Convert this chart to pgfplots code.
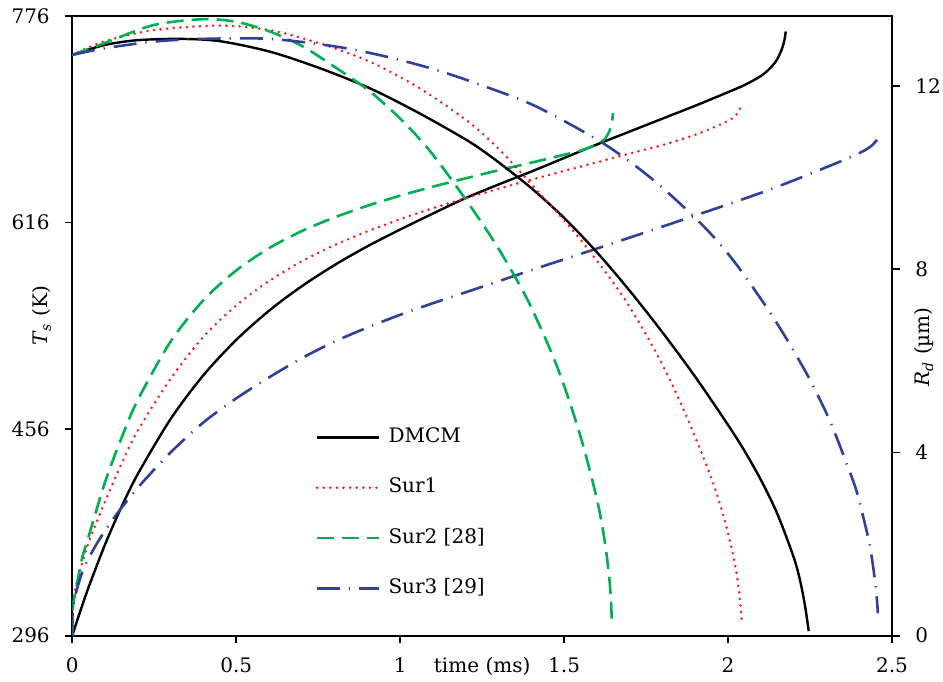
\documentclass[border=0pt]{standalone}
\usepackage{fontspec}
\setmainfont{DejaVu Serif}
\usepackage{pgfplots}
\pgfplotsset{compat=1.18}
\definecolor{sred}{RGB}{255,20,20}
\definecolor{sgreen}{RGB}{0,176,80}
\definecolor{sblue}{RGB}{46,64,152}
\tikzset{
  dmcm/.style={black, line width=1.2pt},
  sur1/.style={sred, line width=1.4pt, line cap=round, dash pattern=on 0pt off 3.3pt},
  sur2/.style={sgreen, line width=1.3pt, dash pattern=on 8.5pt off 4pt},
  sur3/.style={sblue, line width=1.3pt, dash pattern=on 11.5pt off 4.5pt on 0.6pt off 4.5pt},
}
\pgfplotsset{
  common/.style={
    width=409.85pt, height=309.85pt, scale only axis,
    xmin=0, xmax=2.5,
    tick align=outside,
    major tick length=3.75pt,
    tick style={black, line width=0.9pt},
    axis line style={line width=1pt},
    /pgf/number format/assume math mode=true,
    tick label style={font=\fontsize{10}{12}\selectfont},
    label style={font=\fontsize{10}{12}\selectfont},
  }
}
\begin{document}
\begin{tikzpicture}
\begin{axis}[common,
  ymin=296, ymax=776,
  xtick={0,0.5,1,1.5,2,2.5},
  ytick={296,456,616,776},
  xtick pos=left, ytick pos=left,
  xticklabel style={anchor=base, yshift=-14.9pt},
  yticklabel style={xshift=-4pt},
  xlabel={time (ms)},
  ylabel={\textit{T}\textsubscript{\textit{s}} (K)},
  every axis x label/.style={at={(axis description cs:0.5,0)}, anchor=base, yshift=-18.65pt},
  every axis y label/.style={at={(axis description cs:-0.037,0.516)}, anchor=center, rotate=90},
  legend style={draw=none, fill=none, at={(axis description cs:0.297,0.3395)}, anchor=north west,
    inner sep=0pt, outer sep=0pt, row sep=13.2pt, column sep=3pt,
    font=\fontsize{10}{12}\selectfont,
    nodes={inner sep=1pt, text height=7.5pt, text depth=2.5pt}},
  legend image code/.code={\draw[#1] (0pt,0pt) -- (31pt,0pt);},
  legend cell align=left,
]
\coordinate (bl) at (rel axis cs:0,0);
\coordinate (tr) at (rel axis cs:1,1);
% Ts curves (left axis)
\addplot[dmcm, smooth] coordinates {
(0,296) (0.02,311.7) (0.05,333.7) (0.1,366.7) (0.15,395.7) (0.2,421.3) (0.3,463.9) (0.4,497.8)
(0.5,525.1) (0.6,547.7) (0.7,566.7) (0.8,583.1) (0.9,597.6) (1.0,610.6) (1.1,623) (1.2,635)
(1.3,645.5) (1.4,655.5) (1.5,666) (1.6,676.5) (1.7,686.5) (1.8,696.5) (1.9,706.5) (2.0,717)
(2.05,722.5) (2.1,729.5) (2.13,736) (2.15,742.5) (2.165,751) (2.172,757.5) (2.176,764)};
\addlegendentry{DMCM}
\addplot[sur1, smooth] coordinates {
(0,296) (0.002,320) (0.008,331) (0.0234,346.4) (0.054,371) (0.1,400) (0.15,429) (0.2,455)
(0.3,495) (0.4,527.5) (0.5,551.8) (0.6,570.7) (0.7,586) (0.8,598.5) (0.9,609.2) (1.0,618.6)
(1.1,627.1) (1.2,634.9) (1.3,642.2) (1.4,649.2) (1.5,656) (1.6,662.6) (1.7,669.5) (1.8,676)
(1.9,684) (1.975,691.7) (2.015,697) (2.032,702) (2.041,707.2)};
\addlegendentry{Sur1}
\addplot[sur2, smooth] coordinates {
(0,296) (0.002,318) (0.012,333) (0.03,356) (0.05,373) (0.1,415) (0.15,449.1) (0.2,478.7)
(0.3,523.9) (0.4,555.9) (0.5,578.9) (0.6,596.1) (0.7,609.4) (0.8,620) (0.9,629) (1.0,636.8)
(1.1,643.8) (1.2,650.3) (1.3,656.5) (1.4,662.4) (1.5,668.5) (1.55,671.8) (1.6,676.5)
(1.625,681) (1.64,688) (1.647,695.6) (1.649,700.8)};
\addlegendentry{Sur2 [28]}
\addplot[sur3, smooth] coordinates {
(0,296) (0.001,314) (0.01,328) (0.034,347.5) (0.074,367) (0.125,386.5) (0.196,409.5) (0.298,437.5)
(0.399,461) (0.501,480) (0.603,496.5) (0.704,511.5) (0.806,524.5) (0.908,535.5) (1.01,545.5)
(1.111,554.5) (1.253,566.5) (1.416,580.5) (1.619,597.5) (1.883,620) (2.127,641.5) (2.33,662)
(2.41,671) (2.44,676) (2.454,680.1)};
\addlegendentry{Sur3 [29]}
\end{axis}
\begin{axis}[common,
  ymin=0, ymax=13.53,
  axis x line=none, axis y line*=right,
  ytick={0,4,8,12},
  yticklabel style={xshift=4.4pt},
  ylabel={\textit{R}\textsubscript{\textit{d}} (µm)},
  every axis y label/.style={at={(axis description cs:1.039,0.466)}, anchor=center, rotate=90},
]
% Rd curves (right axis)
\addplot[dmcm, smooth] coordinates {
(0,12.68) (0.095,12.89) (0.196,13.0) (0.328,13.03) (0.45,12.98) (0.603,12.75) (0.755,12.39)
(0.908,11.95) (1.06,11.40) (1.212,10.78) (1.3,10.336) (1.4,9.771) (1.5,9.121) (1.6,8.371)
(1.7,7.531) (1.8,6.621) (1.9,5.651) (2.0,4.601) (2.05,4.036) (2.1,3.403) (2.15,2.665)
(2.2,1.715) (2.22,1.195) (2.235,0.64) (2.246,0.1)};
\addplot[sur1, smooth] coordinates {
(0,12.68) (0.095,12.97) (0.247,13.22) (0.45,13.32) (0.603,13.22) (0.755,12.93) (0.908,12.53)
(1.06,11.95) (1.212,11.2) (1.314,10.53) (1.416,9.73) (1.517,8.93) (1.599,8.2) (1.68,7.4)
(1.752,6.55) (1.813,5.73) (1.874,4.78) (1.924,3.91) (1.965,3.11) (1.995,2.38) (2.02,1.6)
(2.033,1.0) (2.04,0.5) (2.042,0.27)};
\addplot[sur2, smooth] coordinates {
(0,12.68) (0.095,12.93) (0.247,13.33) (0.399,13.46) (0.501,13.4) (0.603,13.19) (0.704,12.86)
(0.806,12.39) (0.908,11.88) (1.01,11.22) (1.1,10.5) (1.212,9.4) (1.3,8.45) (1.38,7.45)
(1.436,6.6) (1.48,5.85) (1.517,5.1) (1.55,4.35) (1.578,3.62) (1.6,2.98) (1.615,2.45)
(1.628,1.86) (1.638,1.24) (1.643,0.76) (1.646,0.2)};
\addplot[sur3, smooth] coordinates {
(0,12.68) (0.095,12.82) (0.247,12.97) (0.399,13.03) (0.603,13.03) (0.806,12.86) (0.959,12.64)
(1.111,12.35) (1.263,11.98) (1.416,11.55) (1.619,10.75) (1.772,9.95) (1.924,8.95) (2.026,8.1)
(2.143,6.89) (2.239,5.73) (2.305,4.78) (2.351,3.96) (2.39,3.2) (2.412,2.6) (2.43,2.05)
(2.442,1.53) (2.452,0.95) (2.457,0.49)};
\end{axis}
\pgfresetboundingbox
\path ([shift={(-36.15pt,-23.15pt)}]bl) rectangle ([shift={(25.5pt,8pt)}]tr);
\end{tikzpicture}
\end{document}
